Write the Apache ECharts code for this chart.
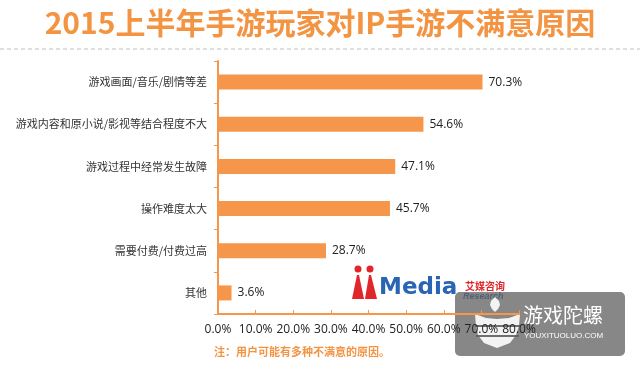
<!DOCTYPE html>
<html><head><meta charset="utf-8">
<script src="https://cdn.jsdelivr.net/npm/echarts@6/dist/echarts.min.js"></script>
<style>html,body{margin:0;padding:0;background:#fff}#c{width:640px;height:365px}</style>
</head><body><div id="c"></div>
<script>
const titleText = '2015上半年手游玩家对IP手游不满意原因';
const noteText = '注：用户可能有多种不满意的原因。';
const categories = ['游戏画面/音乐/剧情等差','游戏内容和原小说/影视等结合程度不大','游戏过程中经常发生故障','操作难度太大','需要付费/付费过高','其他'];
const values = [70.3, 54.6, 47.1, 45.7, 28.7, 3.6];
const xMax = 80, xStep = 10;

const orange = '#F5964A';
const chart = echarts.init(document.getElementById('c'));
chart.setOption({
  backgroundColor: '#fff',
  animation: false,
  textStyle: {fontFamily: '"Noto Sans CJK SC", sans-serif'},
  grid: {left: 218, right: 121, top: 61, bottom: 51, containLabel: false},
  xAxis: {
    type: 'value', min: 0, max: xMax, interval: xStep,
    axisLine: {show: true, lineStyle: {color: orange, width: 2}},
    axisTick: {show: true, inside: true, length: 4, lineStyle: {color: orange}},
    splitLine: {show: false},
    axisLabel: {color: '#222', fontSize: 12, margin: 10, formatter: v => v.toFixed(1) + '%',
      fontFamily: '"Open Sans", sans-serif'}
  },
  yAxis: {
    type: 'category', data: categories, inverse: true,
    axisLine: {show: true, lineStyle: {color: orange, width: 2}},
    axisTick: {show: true, length: 4, lineStyle: {color: orange}},
    axisLabel: {color: '#333', fontSize: 11, margin: 11}
  },
  series: [{
    type: 'bar', data: values, barWidth: 15,
    itemStyle: {color: orange},
    label: {show: true, position: 'right', distance: 6, color: '#222', fontSize: 12,
      fontFamily: '"Open Sans", sans-serif', formatter: p => p.value.toFixed(1) + '%'}
  }],
  graphic: [
    {type: 'text', left: 'center', top: 8, style: {text: titleText, fill: '#F39443',
      font: 'bold 30px "Noto Sans CJK SC", sans-serif'}},
    {type: 'line', shape: {x1: 0, y1: 49, x2: 640, y2: 49},
      style: {stroke: '#B8C0CC', lineWidth: 1, lineDash: [4, 3]}},
    {type: 'text', left: 214, top: 346, style: {text: noteText, fill: '#F39443',
      font: 'bold 11px "Noto Sans CJK SC", sans-serif'}},
    // iMedia logo
    {type: 'circle', shape: {cx: 358, cy: 269, r: 3.5}, style: {fill: '#E0262B'}},
    {type: 'circle', shape: {cx: 370, cy: 269, r: 3.5}, style: {fill: '#E0262B'}},
    {type: 'polygon', shape: {points: [[357,275],[359,275],[364,299],[352,299]]}, style: {fill: '#E0262B'}},
    {type: 'polygon', shape: {points: [[369,275],[371,275],[377,299],[365,299]]}, style: {fill: '#E0262B'}},
    {type: 'text', left: 379, top: 277, style: {text: 'Media', fill: '#2A64B4',
      font: 'bold 23px "DejaVu Sans", sans-serif'}},
    {type: 'text', left: 465, top: 281, style: {text: '艾媒咨询', fill: '#E0262B',
      font: 'bold 10px "Noto Sans CJK SC", sans-serif'}},
    {type: 'text', left: 463, top: 292, style: {text: 'Research', fill: '#2A64B4',
      font: 'italic bold 9px "Liberation Sans", sans-serif'}},
    // watermark box
    {type: 'rect', shape: {x: 455, y: 292, width: 170, height: 64, r: 5},
      style: {fill: 'rgba(95,95,95,0.75)'}},
    {type: 'polygon', shape: {points: [[495,297],[499,301],[500,305],[498,309],[495,312],[492,309],[490,305],[491,301]]},
      style: {fill: 'rgba(255,255,255,0.9)'}},
    {type: 'polygon', shape: {points: [[475,314],[486,318],[497,319],[509,318],[520,314],[519,326],[516,335],[510,343],[497,348],[484,343],[478,335],[476,326]]},
      style: {fill: 'rgba(255,255,255,0.9)'}},
    {type: 'line', shape: {x1: 475, y1: 326, x2: 520, y2: 326}, style: {stroke: 'rgba(95,95,95,0.9)', lineWidth: 2}},
    {type: 'line', shape: {x1: 476, y1: 336, x2: 519, y2: 336}, style: {stroke: 'rgba(95,95,95,0.9)', lineWidth: 2}},
    {type: 'text', left: 523, top: 305, style: {text: '游戏陀螺', fill: '#fff',
      font: '20px "Noto Sans CJK SC", sans-serif'}},
    {type: 'text', left: 524, top: 332, style: {text: 'YOUXITUOLUO.COM', fill: '#fff',
      font: '8px "Liberation Sans", sans-serif'}}
  ]
});
</script></body></html>
